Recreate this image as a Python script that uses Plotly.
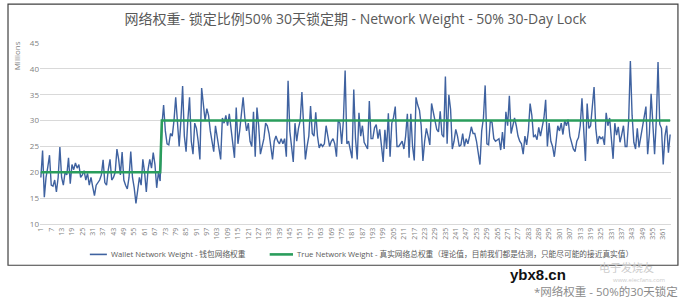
import plotly.graph_objects as go

# ---- data ----
wallet_weight = [
    # days 1-70
    19, 24.2, 15.2, 19, 21, 23.3, 17.5, 17.3, 18.5, 16.2,
    19, 24.9, 19, 17.5, 20, 19.5, 22.8, 17.8, 21.5, 20.5,
    21.8, 20.8, 21.5, 19, 19.5, 20.3, 18.5, 19.8, 17.5, 19,
    17.2, 15.5, 17.5, 18, 18.5, 19.5, 22.4, 18, 17.5, 20.5,
    22.5, 18.5, 19, 20, 24.5, 22.5, 19.5, 23.9, 18.5, 17.5,
    16.8, 19, 24, 19, 17, 14, 16.5, 19, 17.5, 22.5,
    20, 16.2, 20.5, 22.5, 20.8, 23.8, 21.5, 17, 20, 18.3,
    # days 71-120
    29, 33, 28, 25.5, 25.3, 27.5, 27, 30, 34.5, 29,
    25, 30, 36.7, 27, 24, 30, 34.5, 26, 23.5, 29.5,
    28.5, 26, 22.5, 36.3, 33, 30, 32.3, 31, 28, 26,
    24, 29, 27, 25, 22.5, 30.5, 29.5, 31, 29, 31.3,
    28, 25, 22.8, 32.5, 25.5, 28, 31, 34.5, 30.5, 28,
    # days 121-365
    29.5, 26, 25, 31.7, 23, 32.5, 29, 23.5, 25, 26.5,
    29.5, 29, 27.5, 25, 22.5, 26, 27, 26, 25.5, 26.5,
    25.5, 26.5, 23, 37.7, 28, 25, 22, 29.5, 26, 28.5,
    30, 35.5, 29, 22.5, 25, 27, 32.8, 27.5, 27, 31.6,
    27, 24.7, 25.5, 25, 25.5, 29, 27, 25, 26, 26.5,
    25.5, 23, 30, 29.5, 25.5, 30, 39.7, 25.5, 26, 24,
    22.7, 36, 26.5, 22.5, 31.5, 27, 29, 25.8, 25, 24.5,
    33.8, 26.5, 26.5, 28.6, 29.2, 26.5, 28.3, 25, 22, 28.2,
    24.5, 31.4, 23, 29.5, 30.6, 32.7, 25, 25, 25.5, 26,
    24.5, 27, 31.3, 22.8, 31.3, 25, 22.3, 34.5, 33, 32,
    29, 22.2, 26, 28.5, 27, 25.3, 33.3, 31.5, 30, 28.3,
    27.8, 31.8, 27.3, 26.8, 38.5, 25.5, 35, 32.2, 24.5, 26,
    28.3, 27, 25, 25.3, 27.5, 25, 26.5, 25.5, 27, 28.8,
    27.5, 27.5, 26, 23.5, 21.5, 28, 30.5, 36.8, 25.5, 25.3,
    30, 29.6, 26.5, 26, 26.3, 26.5, 24.3, 27.8, 24.5, 31.7,
    29, 34.8, 27.5, 29, 30.5, 29, 27, 26, 25.5, 23.5,
    27, 25.3, 28, 33.3, 31, 26.8, 27.2, 26.3, 28.7, 27,
    29, 30.5, 34, 25, 29.5, 26, 25, 23, 25.8, 29,
    28, 29.5, 27.3, 30, 29, 30.2, 27, 25.5, 24.5, 24,
    26, 26.7, 29, 34.3, 29, 22.2, 33.3, 28.5, 29, 33,
    36.5, 28.5, 25.5, 27, 26.5, 26.8, 25.3, 31.5, 29, 30.5,
    26, 22.6, 29.5, 27.2, 28.8, 25.8, 27.3, 29, 25, 25,
    30, 41.5, 31, 25.8, 24.5, 28.5, 24.8, 27, 29, 31,
    32.7, 23.5, 27.5, 35.2, 28, 23.5, 30, 41.3, 29.3, 28.5,
    21.5, 27, 29, 23.8, 27.3,
]
days = list(range(1, len(wallet_weight) + 1))

true_levels = [20, 30]          # Millions, before / after lock
lock_start_day = 71
true_weight = [true_levels[0] if d < lock_start_day else true_levels[1] for d in days]

tick_days = days[::6]
y_ticks = [10, 15, 20, 25, 30, 35, 40, 45]

title_text = "网络权重- 锁定比例50% 30天锁定期 - Network Weight - 50% 30-Day Lock"
wallet_name = "Wallet Network Weight - 钱包网络权重"
true_name = "True Network Weight - 真实网络总权重（理论值，目前我们都是估测，只能尽可能的接近真实值）"
caption = "*网络权重 - 50%的30天锁定"

FONT = "Open Sans, Noto Sans CJK SC, sans-serif"
BLUE = "#3f62a0"
GREEN = "#2a9d5c"

fig = go.Figure()
fig.add_trace(go.Scatter(x=days, y=wallet_weight, mode="lines", name=wallet_name,
                         line=dict(color=BLUE, width=1.4), showlegend=False))
fig.add_trace(go.Scatter(x=days, y=true_weight, mode="lines", name=true_name,
                         line=dict(color=GREEN, width=2.6), showlegend=False))

fig.update_layout(
    width=682, height=300,
    margin=dict(l=40, r=11, t=43, b=76),
    paper_bgcolor="white", plot_bgcolor="white",
    font=dict(family=FONT, color="#7f7f7f", size=8),
    title=dict(text=title_text, x=0.5, xref="paper", xanchor="center",
               y=0.937, yref="container", yanchor="middle",
               font=dict(family=FONT, size=14, color="#595959")),
    showlegend=False,
    xaxis=dict(range=[0.5, len(days) + 0.5], tickmode="array", tickvals=tick_days,
               ticktext=[str(d) for d in tick_days], tickangle=-90,
               tickfont=dict(size=7, color="#7f7f7f"), showgrid=False, zeroline=False,
               showline=True, linecolor="#d9d9d9", ticks=""),
    yaxis=dict(range=[10, 45], tickmode="array", tickvals=y_ticks,
               tickfont=dict(size=8, color="#7f7f7f"), showgrid=True, gridcolor="#d9d9d9",
               gridwidth=1, zeroline=False, showline=False, ticks=""),
)

# Axis unit label
fig.add_annotation(text="Millions", xref="paper", yref="paper", x=-0.037, y=0.93,
                   textangle=-90, showarrow=False, font=dict(size=8, color="#7f7f7f"),
                   xanchor="center", yanchor="middle")

# manual legend (Excel style, short samples)
leg_y = -0.168
for (x0, x1, col, w, name) in [(0.079, 0.106, BLUE, 1.6, wallet_name),
                               (0.364, 0.401, GREEN, 2.6, true_name)]:
    fig.add_shape(type="line", xref="paper", yref="paper", x0=x0, x1=x1, y0=leg_y, y1=leg_y,
                  line=dict(color=col, width=w))
    fig.add_annotation(text=name, xref="paper", yref="paper", x=x1 + 0.003, y=leg_y,
                       showarrow=False, xanchor="left", yanchor="middle",
                       font=dict(family=FONT, size=7.7, color="#595959"))

# chart frame
fig.add_shape(type="rect", xref="paper", yref="paper", x0=-0.0507, x1=1.011,
              y0=-0.228, y1=1.215, line=dict(color="#404040", width=1.2),
              fillcolor="rgba(0,0,0,0)", layer="below")

# outside-frame texts (watermark and caption)
fig.add_annotation(text="电子发烧友", xref="paper", yref="paper", x=0.93, y=-0.238,
                   showarrow=False, font=dict(family=FONT, size=11, color="#cccccc"),
                   xanchor="center", yanchor="middle")
fig.add_annotation(text="www.elecfans.com", xref="paper", yref="paper", x=0.95, y=-0.308,
                   showarrow=False, font=dict(family=FONT, size=6, color="#cccccc"),
                   xanchor="center", yanchor="middle")
fig.add_annotation(text="<b>ybx8.cn</b>", xref="paper", yref="paper", x=0.79, y=-0.278,
                   showarrow=False, font=dict(family="Liberation Sans, Arial", size=15, color="#111111"),
                   xanchor="center", yanchor="middle")
fig.add_annotation(text=caption, xref="paper", yref="paper", x=1.015, y=-0.372,
                   showarrow=False, font=dict(family=FONT, size=11.5, color="#8a8a8a"),
                   xanchor="right", yanchor="middle")

fig.write_html("out.html")
